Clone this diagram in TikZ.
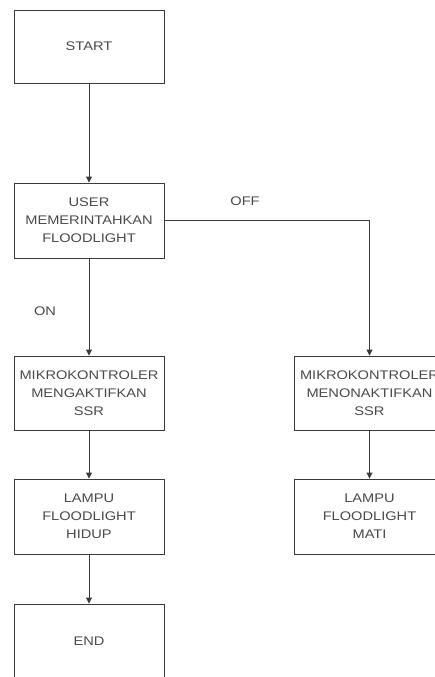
\documentclass[tikz,border=0pt]{standalone}
\usepackage{fontspec}
\setmainfont{Liberation Sans}[FakeStretch=1.17]
\usetikzlibrary{arrows.meta}
\definecolor{linec}{HTML}{3A3A3A}
\definecolor{textc}{HTML}{4A4A4A}
\tikzset{
  box/.style={draw=linec, line width=0.9pt, fill=white, minimum width=150pt, minimum height=75pt,
    inner sep=0pt, align=center, text=textc, font=\fontsize{12.5}{18}\selectfont},
  flow/.style={draw=linec, line width=0.9pt, -{Triangle[width=6pt,length=6pt]}},
  lbl/.style={text=textc, font=\fontsize{12.5}{15}\selectfont}
}
\begin{document}
\begin{tikzpicture}[x=1pt,y=-1pt]
\useasboundingbox (0,0) rectangle (435,677);
\node[box, minimum height=73pt] (start) at (89,46.5) {START};
\node[box] (user) at (89,220.5) {USER\\MEMERINTAHKAN\\FLOODLIGHT};
\node[box, minimum height=74pt] (mkon) at (89,393) {MIKROKONTROLER\\MENGAKTIFKAN\\SSR};
\node[box, minimum height=74pt] (mkoff) at (369.5,393) {MIKROKONTROLER\\MENONAKTIFKAN\\SSR};
\node[box] (lon) at (89,516.5) {LAMPU\\FLOODLIGHT\\HIDUP};
\node[box] (loff) at (369.5,516.5) {LAMPU\\FLOODLIGHT\\MATI};
\node[box] (end) at (89,641.5) {END};
\node[lbl] (on) at (45,311) {ON};
\node[lbl] (off) at (245,201) {OFF};
\draw[flow] (start) -- (user);
\draw[flow] (user) -- (mkon);
\draw[flow] (user.east) -| (mkoff.north);
\draw[flow] (mkon) -- (lon);
\draw[flow] (mkoff) -- (loff);
\draw[flow] (lon) -- (end);
\end{tikzpicture}
\end{document}
